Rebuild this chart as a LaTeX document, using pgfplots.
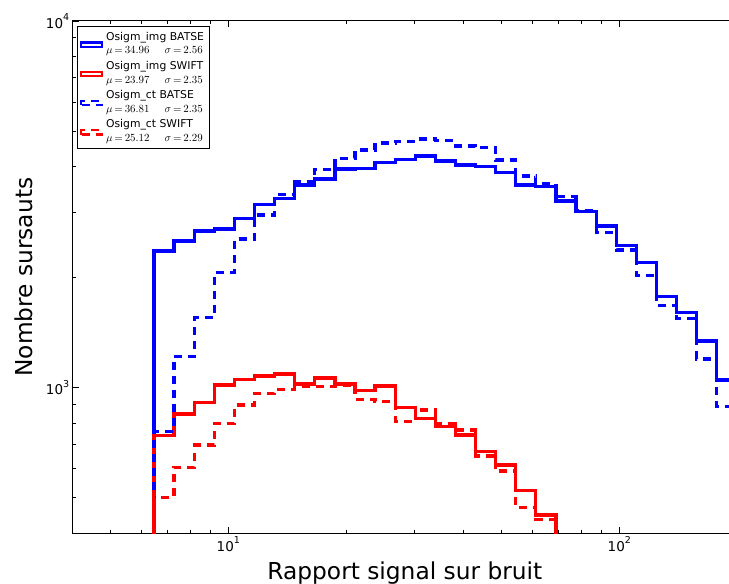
\documentclass[border=0pt]{standalone}
\usepackage[no-math]{fontspec}
\setmainfont{DejaVu Sans}
\usepackage{pgfplots}
\pgfplotsset{compat=1.18}
\begin{document}
\begin{tikzpicture}
\useasboundingbox (0,0) rectangle (729bp,584bp);
\begin{axis}[
  at={(72.7bp,50.7bp)}, anchor=south west,
  scale only axis, width=664.3bp, height=512.3bp,
  xmode=log, ymode=log,
  xmin=4, xmax=200, ymin=400, ymax=10000,
  xtick={10,100},
  xticklabels={10\raisebox{7.4bp}{\fontsize{9.5bp}{10bp}\selectfont 1},10\raisebox{7.4bp}{\fontsize{9.5bp}{10bp}\selectfont 2}},
  minor xtick={4,5,6,7,8,9,20,30,40,50,60,70,80,90,200},
  ytick={1000,10000},
  yticklabels={10\raisebox{7.4bp}{\fontsize{9.5bp}{10bp}\selectfont 3},10\raisebox{7.4bp}{\fontsize{9.5bp}{10bp}\selectfont 4}},
  minor ytick={400,500,600,700,800,900,2000,3000,4000,5000,6000,7000,8000,9000},
  tick align=inside,
  major tick length=6bp, minor tick length=3bp,
  every tick/.style={black, line width=0.8bp},
  axis line style={line width=1bp, black},
  tick label style={font=\fontsize{13.5bp}{16bp}\selectfont},
  xlabel={Rapport signal sur bruit},
  ylabel={Nombre sursauts},
  label style={font=\fontsize{23.3bp}{28bp}\selectfont},
  xlabel style={at={(axis description cs:0.5,-0.0911)}, anchor=base},
  ylabel style={at={(axis description cs:-0.06127,0.5)}, anchor=base},
  legend style={at={(axis description cs:0.0069,0.990)}, anchor=north west,
    draw=black, line width=1bp, fill=white, inner xsep=2bp, inner ysep=2.5bp,
    font=\fontsize{10.8bp}{13.5bp}\selectfont,
    cells={align=left}, row sep=0bp,
    nodes={inner ysep=3bp, inner xsep=3bp}},
  legend cell align=left,
  legend image code/.code={\draw[#1, line width=2.3bp] (1.15bp,-3.2bp) rectangle (22.15bp,1.2bp);},
  every axis plot/.append style={const plot, line width=3.3bp, line join=miter},
]
% Osigm_img BATSE
\addplot[blue] coordinates {
(6.457,10) (6.457,2357) (7.268,2510) (8.181,2673) (9.209,2707) (10.366,2892)
(11.668,3157) (13.134,3282) (14.784,3569) (16.641,3707) (18.732,3947)
(21.086,3964) (23.735,4106) (26.716,4189) (30.073,4282) (33.85,4150)
(38.11,4047) (42.89,4004) (48.28,3856) (54.35,3569) (61.17,3531)
(68.87,3228) (77.51,3021) (87.26,2759) (98.22,2437) (110.56,2190)
(124.45,1769) (140.09,1604) (157.69,1339) (177.50,1048) (199.8,10)
};
\addlegendentry{Osigm\_img BATSE\\$\mu\,{=}\,34.96$\hspace{15bp}$\sigma\,{=}\,2.56$}
% Osigm_img SWIFT
\addplot[red] coordinates {
(6.457,10) (6.457,740.6) (7.268,846.6) (8.181,908.9) (9.209,1016) (10.366,1051)
(11.668,1075) (13.134,1088) (14.784,1022) (16.641,1061) (18.732,1022)
(21.086,980) (23.735,1009) (26.716,881) (30.073,824) (33.85,782)
(38.11,742) (42.89,668) (48.28,614) (54.35,523) (61.17,449)
(68.87,100)
};
\addlegendentry{Osigm\_img SWIFT\\$\mu\,{=}\,23.97$\hspace{15bp}$\sigma\,{=}\,2.35$}
% Osigm_ct BATSE
\addplot[blue, dash pattern=on 8bp off 6bp] coordinates {
(6.457,10) (6.457,757) (7.268,1213) (8.181,1554) (9.209,2057) (10.366,2542)
(11.668,2956) (13.134,3366) (14.784,3644) (16.641,3939) (18.732,4221)
(21.086,4446) (23.735,4646) (26.716,4690) (30.073,4764) (33.85,4719)
(38.11,4560) (42.89,4523) (48.28,4175) (54.35,3777) (61.17,3608)
(68.87,3316) (77.51,3031) (87.26,2652) (98.22,2372) (110.56,2018)
(124.45,1676) (140.09,1545) (157.69,1196) (177.50,886) (199.8,10)
};
\addlegendentry{Osigm\_ct BATSE\\$\mu\,{=}\,36.81$\hspace{15bp}$\sigma\,{=}\,2.35$}
% Osigm_ct SWIFT
\addplot[red, dash pattern=on 8bp off 6bp] coordinates {
(6.457,10) (6.457,500) (7.268,606) (8.181,697) (9.209,799) (10.366,896)
(11.668,964) (13.134,989) (14.784,1005) (16.641,1005) (18.732,1016)
(21.086,929) (23.735,915) (26.716,807) (30.073,868) (33.85,795)
(38.11,766) (42.89,650) (48.28,592) (54.35,470) (61.17,437)
(68.87,100)
};
\addlegendentry{Osigm\_ct SWIFT\\$\mu\,{=}\,25.12$\hspace{15bp}$\sigma\,{=}\,2.29$}
\end{axis}
\end{tikzpicture}
\end{document}
